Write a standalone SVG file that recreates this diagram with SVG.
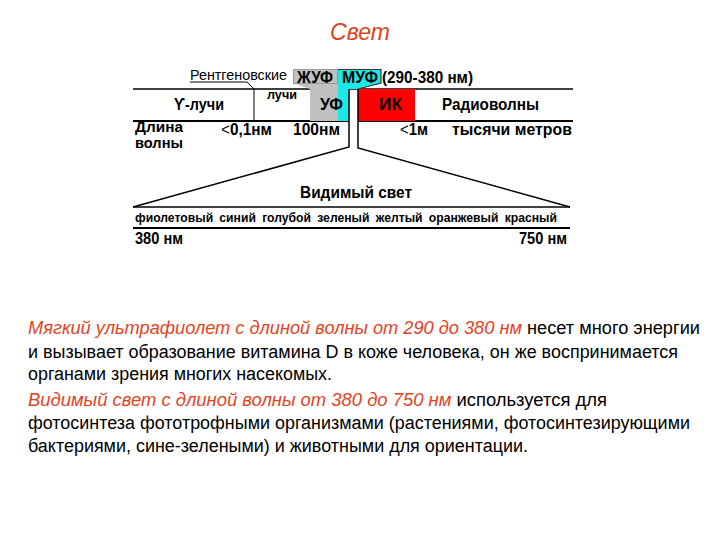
<svg xmlns="http://www.w3.org/2000/svg" width="720" height="540" viewBox="0 0 720 540">
<style>
.b{font-family:"Liberation Sans",Arial,sans-serif;font-weight:bold;fill:#000}
.n{font-family:"Liberation Sans",Arial,sans-serif;fill:#000}
.p{font-family:"Liberation Sans",Arial,sans-serif;font-size:18px;fill:#000}
.r{fill:#E2431E;font-style:italic}
.ln{stroke:#000;stroke-width:1.5;fill:none}
</style>
<rect width="720" height="540" fill="#fff"/>
<text x="360" y="40" text-anchor="middle" font-family="Liberation Sans, Arial, sans-serif" font-style="italic" font-size="23" fill="#E2431E" textLength="60" lengthAdjust="spacingAndGlyphs">Свет</text>

<g id="connectors">
<line class="ln" x1="133" y1="89" x2="573" y2="89"/>
<line x1="133" y1="121" x2="349" y2="121" stroke="#000" stroke-width="2"/>
<line x1="358" y1="121" x2="573" y2="121" stroke="#000" stroke-width="2"/>
<polyline points="190,82 247,82 254,89 254,121" fill="none" stroke="#000" stroke-width="1"/>
</g>

<g id="uv">
<polygon points="293,69 338,69 338,121 310,121 310,89 293,83" fill="#C0C0C0"/>
<polygon points="338,69 381,69 381,83 358,89 349,89 349,121 338,121" fill="#1CE8E8"/>
<rect x="293.5" y="69.5" width="44" height="14" fill="none" stroke="#999" stroke-width="1"/>
<polyline points="338,69.5 381,69.5 381,83 358,89" fill="none" stroke="#333" stroke-width="1.2"/>
<text class="b" x="297" y="82.5" font-size="16" textLength="36" lengthAdjust="spacingAndGlyphs">ЖУФ</text>
<text class="b" x="342" y="82.5" font-size="16" textLength="36" lengthAdjust="spacingAndGlyphs">МУФ</text>
<text class="b" x="320" y="110" font-size="17" textLength="23" lengthAdjust="spacingAndGlyphs">УФ</text>
</g>

<g id="ir">
<rect x="358" y="89" width="57" height="32" fill="#FF0000"/>
<text class="b" x="379" y="110" font-size="17" textLength="23" lengthAdjust="spacingAndGlyphs">ИК</text>
</g>

<g id="labels">
<text class="n" x="190" y="80" font-size="14" textLength="97" lengthAdjust="spacingAndGlyphs">Рентгеновские</text>
<text class="b" x="382" y="82.5" font-size="17" textLength="91" lengthAdjust="spacingAndGlyphs">(290-380 нм)</text>
<text class="b" x="174" y="110" font-size="17" textLength="50" lengthAdjust="spacingAndGlyphs">ϒ-лучи</text>
<text class="b" x="267" y="99" font-size="12" textLength="30" lengthAdjust="spacingAndGlyphs">лучи</text>
<text class="b" x="442" y="110" font-size="17" textLength="97" lengthAdjust="spacingAndGlyphs">Радиоволны</text>
<text class="b" x="135" y="132" font-size="14" textLength="48" lengthAdjust="spacingAndGlyphs">Длина</text>
<text class="b" x="135" y="148" font-size="14" textLength="48" lengthAdjust="spacingAndGlyphs">волны</text>
<text class="b" x="221" y="135" font-size="17" textLength="51" lengthAdjust="spacingAndGlyphs"><tspan font-weight="normal">&lt;</tspan>0,1нм</text>
<text class="b" x="293" y="135" font-size="17" textLength="47" lengthAdjust="spacingAndGlyphs">100нм</text>
<text class="b" x="400" y="135" font-size="17" textLength="28" lengthAdjust="spacingAndGlyphs"><tspan font-weight="normal">&lt;</tspan>1м</text>
<text class="b" x="452" y="135" font-size="17" textLength="120" lengthAdjust="spacingAndGlyphs">тысячи метров</text>
</g>

<g id="visible">
<polyline class="ln" points="349,89 349,147 133,207"/>
<polyline class="ln" points="358,89 358,148 570,207"/>
<line class="ln" x1="133" y1="207" x2="570" y2="207"/>
<line x1="133" y1="228" x2="570" y2="228" stroke="#000" stroke-width="2"/>
<text class="b" x="300" y="198" font-size="17" textLength="112" lengthAdjust="spacingAndGlyphs">Видимый свет</text>
<text class="b" x="135" y="222" font-size="13" textLength="422" lengthAdjust="spacingAndGlyphs" word-spacing="3">фиолетовый  синий  голубой  зеленый  желтый  оранжевый  красный</text>
<text class="b" x="135" y="244" font-size="17" textLength="48" lengthAdjust="spacingAndGlyphs">380 нм</text>
<text class="b" x="519" y="244" font-size="17" textLength="48" lengthAdjust="spacingAndGlyphs">750 нм</text>
</g>

<g id="paragraph">
<text class="p" x="28" y="334" textLength="672" lengthAdjust="spacingAndGlyphs"><tspan class="r">Мягкий ультрафиолет с длиной волны от 290 до 380 нм</tspan> несет много энергии</text>
<text class="p" x="28" y="358" textLength="650" lengthAdjust="spacingAndGlyphs">и вызывает образование витамина D в коже человека, он же воспринимается</text>
<text class="p" x="28" y="380" textLength="304" lengthAdjust="spacingAndGlyphs">органами зрения многих насекомых.</text>
<text class="p" x="28" y="406" textLength="579" lengthAdjust="spacingAndGlyphs"><tspan class="r">Видимый свет с длиной волны от 380 до 750 нм</tspan> используется для</text>
<text class="p" x="28" y="429" textLength="662" lengthAdjust="spacingAndGlyphs">фотосинтеза фототрофными организмами (растениями, фотосинтезирующими</text>
<text class="p" x="28" y="452" textLength="500" lengthAdjust="spacingAndGlyphs">бактериями, сине-зелеными) и животными для ориентации.</text>
</g>
</svg>
